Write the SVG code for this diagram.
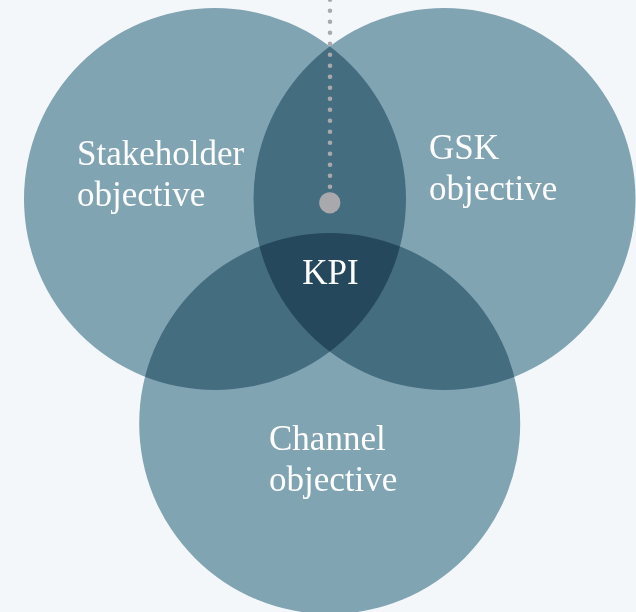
<svg xmlns="http://www.w3.org/2000/svg" width="636" height="612" viewBox="0 0 636 612">
  <style>
    .bg { fill: #f4f7fa; }
    .set { fill: #87a9b7; mix-blend-mode: multiply; }
    .label { font-family: "Liberation Serif", "Times New Roman", serif; font-size: 35px; fill: #ffffff; }
    .dots { stroke: #a9a9ad; stroke-width: 4.6; stroke-linecap: round; stroke-dasharray: 0 11; fill: none; }
    .pin { fill: #a9a9ad; }
  </style>
  <rect class="bg" x="0" y="0" width="636" height="612"/>
  <g id="node-stakeholder">
    <circle class="set" cx="215" cy="199" r="191"/>
    <text class="label" x="77" y="165">Stakeholder</text>
    <text class="label" x="77" y="206">objective</text>
  </g>
  <g id="node-gsk">
    <circle class="set" cx="444.5" cy="199" r="191"/>
    <text class="label" x="429" y="158.5">GSK</text>
    <text class="label" x="429" y="199.5">objective</text>
  </g>
  <g id="node-channel">
    <circle class="set" cx="329.7" cy="423.5" r="190.5"/>
    <text class="label" x="269" y="449.5">Channel</text>
    <text class="label" x="269" y="490.5">objective</text>
  </g>
  <g id="node-kpi">
    <text class="label" x="330.5" y="284.3" text-anchor="middle">KPI</text>
  </g>
  <g id="connectors">
    <line class="dots" x1="330" y1="-0.3" x2="330" y2="186.8"/>
    <circle class="pin" cx="329.8" cy="202.8" r="10.6"/>
  </g>
</svg>
